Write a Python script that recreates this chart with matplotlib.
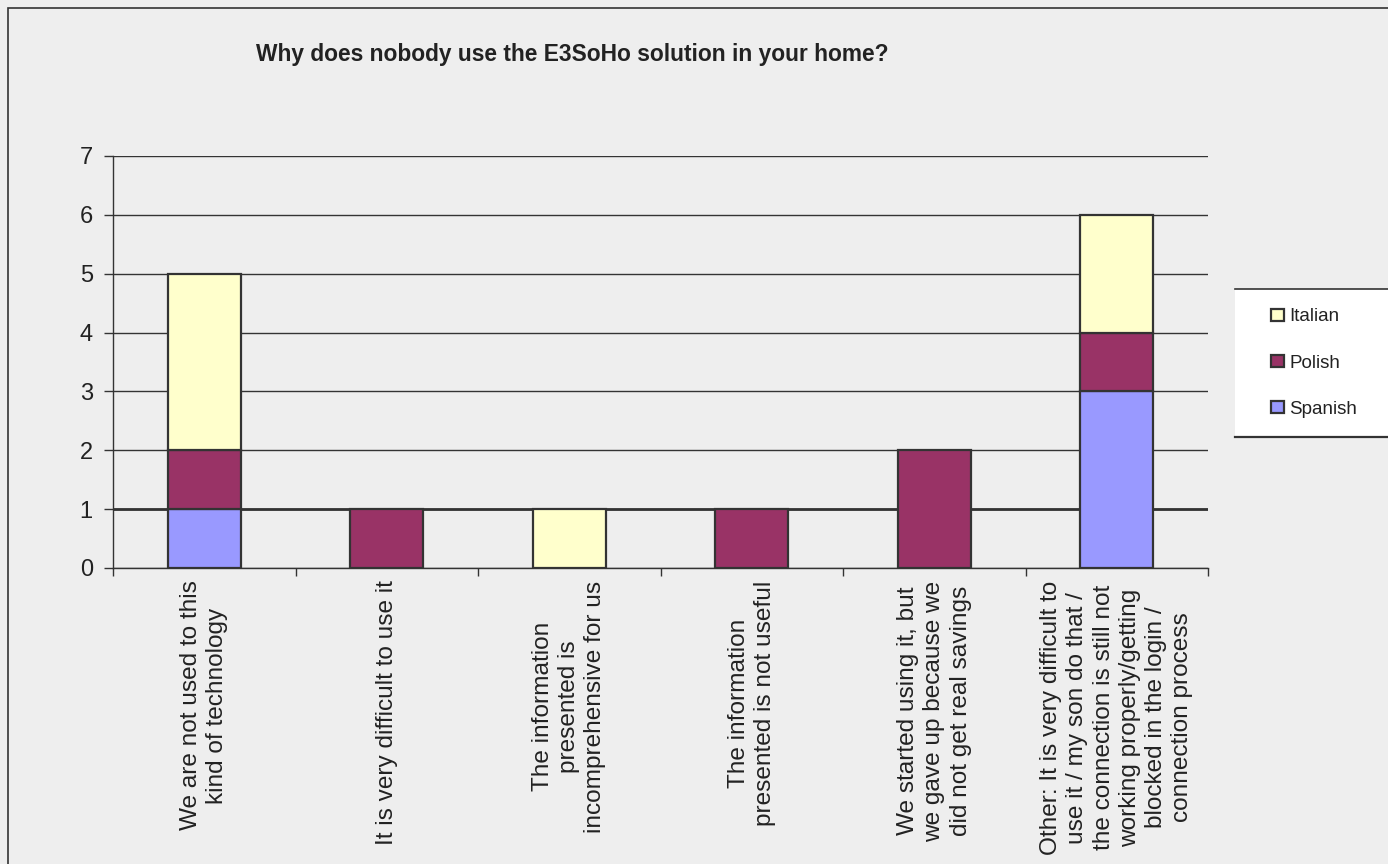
import matplotlib
matplotlib.use("Agg")
import matplotlib.pyplot as plt
from matplotlib.patches import Rectangle, Patch
from matplotlib.lines import Line2D
import numpy as np

title = "Why does nobody use the E3SoHo solution in your home?"
categories = [
    "We are not used to this\nkind of technology",
    "It is very difficult to use it",
    "The information\npresented is\nincomprehensive for us",
    "The information\npresented is not useful",
    "We started using it, but\nwe gave up because we\ndid not get real savings",
    "Other: It is very difficult to\nuse it / my son do that /\nthe connection is still not\nworking properly/getting\nblocked in the login /\nconnection process",
]
series_names = ["Spanish", "Polish", "Italian"]
spanish = [1, 0, 0, 0, 0, 3]
polish = [1, 1, 0, 1, 2, 1]
italian = [3, 0, 1, 0, 0, 2]
colors = ["#9999ff", "#993366", "#ffffcc"]

plt.rcParams['font.family'] = ['Liberation Sans', 'DejaVu Sans']
W, H = 1388, 864
fig = plt.figure(figsize=(W / 100, H / 100), dpi=100, facecolor="#eeeeee")

# outer border
fig.patches.append(Rectangle((8 / W, -0.1), 1.2, (H - 8) / H + 0.1, transform=fig.transFigure,
                             fill=False, edgecolor="#333333", linewidth=1.2, zorder=0))

ax = fig.add_axes([113 / W, (H - 568) / H, (1208 - 113) / W, (568 - 156) / H])
ax.set_facecolor("#eeeeee")

x = np.arange(len(categories)) + 0.5
edge = "#333333"
bottom = np.zeros(len(categories))
handles = []
for name, vals, c in zip(series_names, [spanish, polish, italian], colors):
    v = np.array(vals, dtype=float)
    mask = v > 0
    ax.bar(x[mask], v[mask], width=0.4, bottom=bottom[mask], color=c, edgecolor=edge,
           linewidth=1.6, zorder=3)
    bottom += v
    handles.append(Patch(facecolor=c, edgecolor=edge, linewidth=1.6, label=name))

ax.set_xlim(0, len(categories))
ax.set_ylim(0, 7)
ax.set_yticks(range(0, 8))
ax.yaxis.grid(True, color="#333333", linewidth=1.0, zorder=1)
ax.axhline(1, color="#333333", linewidth=2.0, zorder=2)
ax.set_axisbelow(True)
for s in ["top", "right"]:
    ax.spines[s].set_visible(False)
for s in ["left", "bottom"]:
    ax.spines[s].set_color("#333333")
    ax.spines[s].set_linewidth(1.0)

ax.tick_params(axis="y", length=6.5, width=1.0, color="#333333", labelsize=17,
               labelcolor="#222222", pad=8)
ax.set_xticks(x)
ax.set_xticklabels(categories, rotation=90, ha="center", va="top", fontsize=17.6,
                   color="#222222", multialignment="center", linespacing=1.25)
ax.tick_params(axis="x", which="major", length=0, pad=9)
ax.set_xticks(np.arange(0, len(categories) + 1), minor=True)
ax.tick_params(axis="x", which="minor", length=6, width=1.0, color="#333333")

fig.text(572 / W, 1 - 55 / H, title, ha="center", va="center", fontsize=16.4,
         fontweight="bold", color="#222222")

# legend box
lx0, ly0, ly1 = 1235 / W, 1 - 437 / H, 1 - 289 / H
fig.patches.append(Rectangle((lx0, ly0), 1 - lx0 + 0.05, ly1 - ly0, transform=fig.transFigure,
                             facecolor="white", edgecolor="none", zorder=1))
fig.lines.append(Line2D([lx0, 1.0], [ly1, ly1], transform=fig.transFigure, color="#333333", lw=1.2))
fig.lines.append(Line2D([lx0, 1.0], [ly0, ly0], transform=fig.transFigure, color="#333333", lw=1.6))

leg = fig.legend(handles=handles[::-1], loc="center left",
                 bbox_to_anchor=(1262 / W, 1 - 363 / H), frameon=False, fontsize=13.5,
                 handlelength=0.65, handleheight=0.65, handletextpad=0.3, labelspacing=1.55,
                 borderpad=0, labelcolor="#222222")

fig.savefig("out.png", dpi=100, facecolor=fig.get_facecolor())
